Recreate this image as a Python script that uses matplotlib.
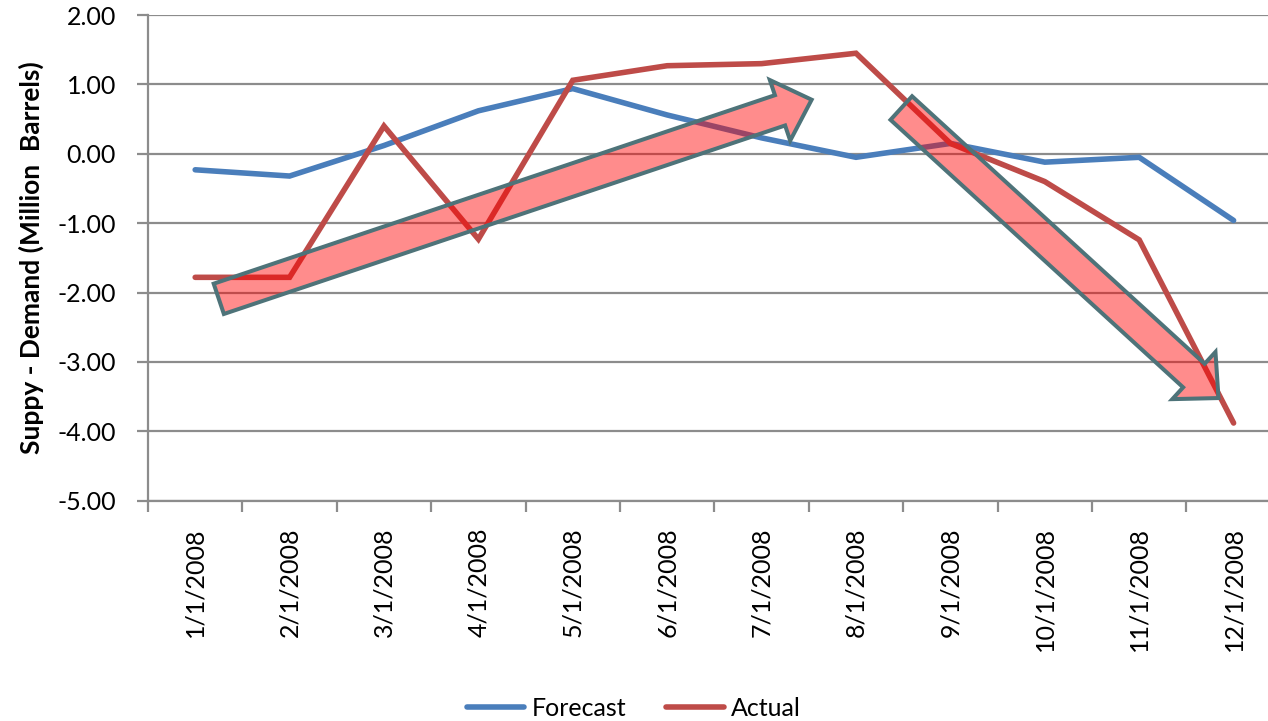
import matplotlib
matplotlib.use("Agg")
import matplotlib.pyplot as plt
from matplotlib.patches import FancyArrowPatch

# ---------------------------------------------------------
# Data
# ---------------------------------------------------------
months = ["1/1/2008", "2/1/2008", "3/1/2008", "4/1/2008", "5/1/2008", "6/1/2008",
          "7/1/2008", "8/1/2008", "9/1/2008", "10/1/2008", "11/1/2008", "12/1/2008"]
forecast = [-0.23, -0.32, 0.12, 0.62, 0.94, 0.56, 0.23, -0.05, 0.15, -0.12, -0.05, -0.96]
actual = [-1.78, -1.78, 0.40, -1.23, 1.06, 1.27, 1.30, 1.45, 0.15, -0.40, -1.24, -3.88]

# trend arrows: (tail x, tail y) -> (tip x, tip y), x in category index
trend_up = ((0.25, -2.09), (6.53, 0.78))
trend_down = ((7.48, 0.66), (10.84, -3.52))

BLUE = "#4A7EBB"
RED = "#BE4B48"
GRID = "#8C8C8C"

plt.rcParams["font.family"] = ["Lato", "DejaVu Sans"]

fig = plt.figure(figsize=(12.68, 7.21), dpi=100)
ax = fig.add_axes([0.1167, 0.3055, 0.8934, 0.6736])

x = list(range(len(months)))
ax.plot(x, forecast, color=BLUE, lw=4, solid_capstyle="round",
        solid_joinstyle="miter", label="Forecast", zorder=3)
ax.plot(x, actual, color=RED, lw=4, solid_capstyle="round",
        solid_joinstyle="miter", label="Actual", zorder=3)

# translucent trend arrows on top of the lines
for (tail, tip) in (trend_up, trend_down):
    arr = FancyArrowPatch(tail, tip, shrinkA=0, shrinkB=0, mutation_scale=1,
                          arrowstyle="simple,head_width=46,head_length=24,tail_width=23",
                          facecolor=(1, 0, 0, 0.45), edgecolor="#4E7379",
                          lw=2.9, joinstyle="miter", zorder=4)
    ax.add_patch(arr)

# axes
ax.set_xlim(-0.5, len(months) - 0.5)
ax.set_ylim(-5, 2)
ax.set_yticks(range(-5, 3))
ax.set_yticklabels([f"{v:.2f}" for v in range(-5, 3)], fontsize=18)
ax.yaxis.grid(True, color=GRID, lw=1.6)
ax.set_axisbelow(True)

ax.set_xticks([i - 0.5 for i in range(len(months) + 1)])
ax.set_xticklabels([])
ax.set_xticks(x, minor=True)
ax.set_xticklabels(months, minor=True, rotation=90, fontsize=18)
ax.tick_params(axis="x", which="minor", length=0, pad=19)
ax.tick_params(axis="x", which="major", length=8, width=1.6, color=GRID)
ax.tick_params(axis="y", length=8, width=1.6, color=GRID, pad=15)

for side in ("top", "right"):
    ax.spines[side].set_visible(False)
for side in ("left", "bottom"):
    ax.spines[side].set_color(GRID)
    ax.spines[side].set_linewidth(1.6)

ax.set_ylabel("Suppy - Demand (Million  Barrels)", fontsize=19, fontweight="bold", labelpad=10)

fig.legend(loc="lower center", bbox_to_anchor=(0.5, -0.03), ncol=2, frameon=False,
           fontsize=18, handlelength=2.3, handletextpad=0.3, columnspacing=1.6)

fig.savefig("out.png", dpi=100)
